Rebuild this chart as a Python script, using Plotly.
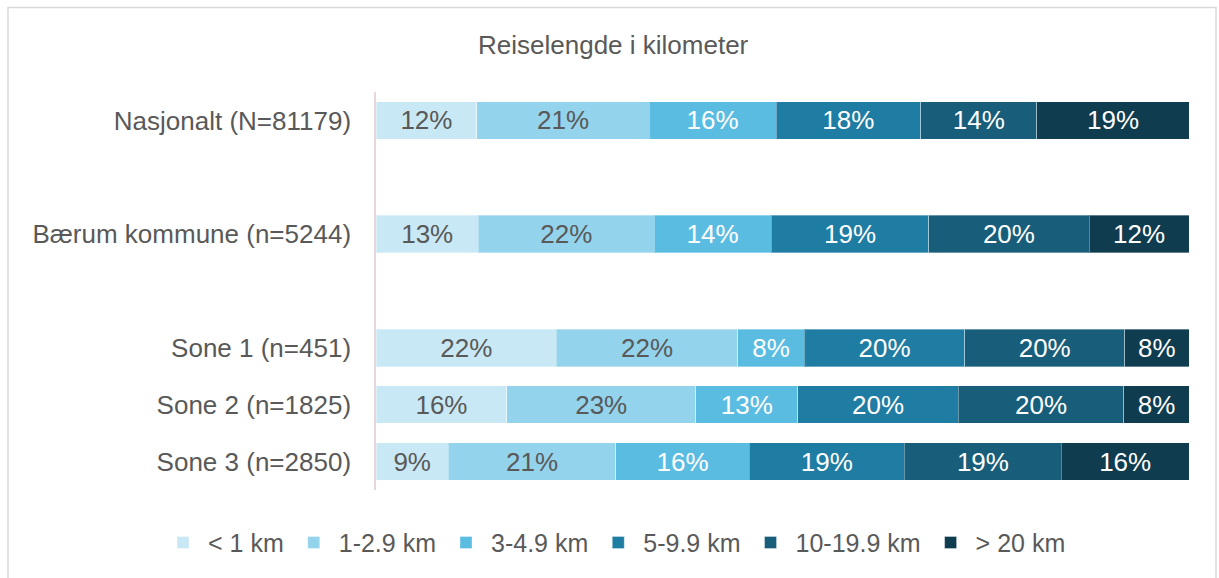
import plotly.graph_objects as go

# ---- data ----
categories = ["Nasjonalt (N=81179)", "Bærum kommune (n=5244)", "Sone 1 (n=451)", "Sone 2 (n=1825)", "Sone 3 (n=2850)"]
category_slots = [0, 2, 4, 5, 6]
series_names = ["< 1 km", "1-2.9 km", "3-4.9 km", "5-9.9 km", "10-19.9 km", "> 20 km"]
lt1 = [12.4, 12.6, 22.2, 16.1, 8.9]
km1_3 = [21.2, 21.6, 22.3, 23.2, 20.6]
km3_5 = [15.6, 14.4, 8.2, 12.6, 16.4]
km5_10 = [17.8, 19.4, 19.7, 19.7, 19.1]
km10_20 = [14.3, 19.7, 19.7, 20.4, 19.3]
gt20 = [18.7, 12.3, 7.9, 8.0, 15.7]
series_values = [lt1, km1_3, km3_5, km5_10, km10_20, gt20]

colors = ["#c9e8f5", "#93d3eb", "#5bbce2", "#1f7ca3", "#185e7a", "#103c50"]
text_colors = ["#595959", "#595959", "#ffffff", "#ffffff", "#ffffff", "#ffffff"]

FONT = "Liberation Sans, Arial, sans-serif"

fig = go.Figure()
for name, vals, col, tcol in zip(series_names, series_values, colors, text_colors):
    fig.add_trace(go.Bar(
        name=name, x=vals, y=category_slots, orientation="h",
        marker=dict(color=col, line=dict(color="rgba(255,255,255,0.35)", width=1)),
        texttemplate="%{x:.0f}%", textposition="inside", insidetextanchor="middle",
        textfont=dict(color=tcol, size=26, family=FONT),
        constraintext="none", width=0.66,
    ))

fig.update_layout(
    barmode="stack",
    width=1219, height=578,
    margin=dict(l=376, r=30, t=92, b=86),
    paper_bgcolor="white", plot_bgcolor="white",
    font=dict(family=FONT, color="#595959", size=25),
    title=dict(text="Reiselengde i kilometer", x=0.503, xref="container", xanchor="center",
               y=1 - 45 / 578, yref="container", yanchor="middle",
               font=dict(size=26, color="#595959", family=FONT)),
    xaxis=dict(range=[0, 100], visible=False, fixedrange=True),
    yaxis=dict(range=[6.5, -0.5], tickvals=category_slots, ticktext=categories,
               showline=True, linecolor="#e8d6dc", linewidth=1.5, showgrid=False,
               zeroline=False, ticks="", ticklabelstandoff=18, fixedrange=True,
               tickfont=dict(size=26, color="#595959", family=FONT)),
    legend=dict(orientation="h", xref="paper", x=(158 - 376) / 813, xanchor="left",
                yref="paper", y=(492 - 545) / 400, yanchor="middle",
                itemwidth=40,
                font=dict(size=25, color="#595959", family=FONT),
                traceorder="normal", itemclick=False, itemdoubleclick=False),
    showlegend=True,
    shapes=[dict(type="rect", xref="paper", yref="paper",
                 x0=(8 - 376) / 813, x1=(1216 - 376) / 813,
                 y0=-0.5, y1=(492 - 7) / 400,
                 line=dict(color="#d9d9d9", width=1.5), fillcolor="rgba(0,0,0,0)", layer="below")],
)

fig.write_html("out.html", config={"displayModeBar": False},
               post_script="document.body.style.margin='0';document.body.style.padding='0';")
